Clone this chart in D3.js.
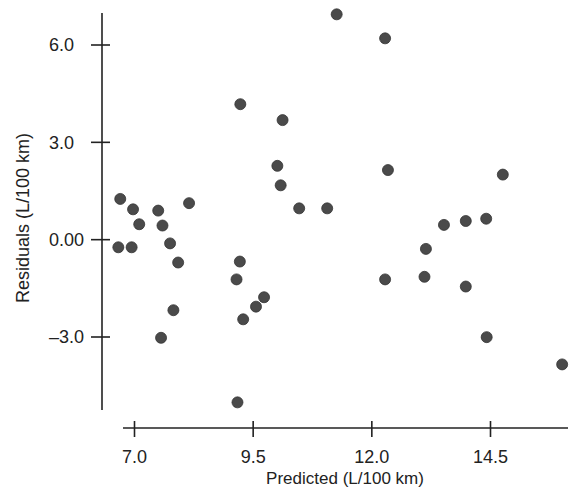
<!DOCTYPE html>
<html>
<head>
<meta charset="utf-8">
<script src="https://cdn.jsdelivr.net/npm/d3@7"></script>
<style>
  html, body { margin: 0; padding: 0; background: #fff; }
  svg text { font-family: "Liberation Sans", Arial, sans-serif; fill: #222; }
</style>
</head>
<body>
<svg id="chart" width="570" height="490"></svg>
<script>
// predicted fuel use (L/100 km) and residuals
let predicted = [6.67, 6.95, 6.71, 6.98, 7.11, 7.51, 7.60, 7.76, 7.93, 7.83, 7.57, 8.16,
                 9.23, 9.16, 9.74, 9.57, 9.30, 9.18, 9.24, 10.13, 10.02, 10.09, 10.48, 11.07,
                 11.27, 12.29, 12.35, 14.77, 13.53, 13.99, 14.42, 13.15, 12.29, 13.12, 13.99, 14.43, 16.02];
let residuals = [-0.25, -0.25, 1.24, 0.92, 0.46, 0.88, 0.42, -0.13, -0.72, -2.19, -3.04, 1.11,
                 -0.69, -1.24, -1.79, -2.08, -2.47, -5.03, 4.16, 3.67, 2.26, 1.66, 0.95, 0.95,
                 6.93, 6.19, 2.13, 1.99, 0.44, 0.56, 0.63, -0.30, -1.24, -1.16, -1.46, -3.02, -3.86];

let xTicks = [7.0, 9.5, 12.0, 14.5];
let xTickLabels = ["7.0", "9.5", "12.0", "14.5"];
let yTicks = [-3, 0, 3, 6];
let yTickLabels = ["\u20133.0", "0.00", "3.0", "6.0"];

let xTitle = "Predicted (L/100 km)";
let yTitle = "Residuals (L/100 km)";

// layout
let svg = d3.select("#chart");
let xAxisY = 428, yAxisX = 102;
let ink = "#222";

let x = d3.scaleLinear().domain([7.0, 14.5]).range([134, 490]);
let y = d3.scaleLinear().domain([-3, 6]).range([336.5, 44.5]);

// x axis
let gx = svg.append("g")
    .attr("transform", "translate(0," + xAxisY + ")")
    .call(d3.axisBottom(x)
        .tickValues(xTicks)
        .tickFormat((d, i) => xTickLabels[i]));
gx.select(".domain").remove();
gx.selectAll(".tick line")
    .attr("y1", -7).attr("y2", 9)
    .attr("stroke", ink).attr("stroke-width", 1.6);
gx.selectAll(".tick text")
    .attr("y", 35).attr("dy", null)
    .style("font-size", "18px");
gx.append("line")
    .attr("x1", 123).attr("x2", 568)
    .attr("stroke", ink).attr("stroke-width", 1.6);

// y axis
let gy = svg.append("g")
    .attr("transform", "translate(" + yAxisX + ",0)")
    .call(d3.axisLeft(y)
        .tickValues(yTicks)
        .tickFormat((d, i) => yTickLabels[i]));
gy.select(".domain").remove();
gy.selectAll(".tick line")
    .attr("x1", -11).attr("x2", 8)
    .attr("stroke", ink).attr("stroke-width", 1.6);
gy.selectAll(".tick text")
    .attr("x", -53).attr("dy", "0.36em")
    .attr("text-anchor", "start")
    .style("font-size", "18px");
gy.append("line")
    .attr("y1", 13).attr("y2", 410)
    .attr("stroke", ink).attr("stroke-width", 1.6);

// titles
svg.append("text")
    .attr("x", 345).attr("y", 484)
    .attr("text-anchor", "middle")
    .style("font-size", "17px")
    .text(xTitle);

svg.append("text")
    .attr("transform", "translate(29,218) rotate(-90)")
    .attr("text-anchor", "middle")
    .style("font-size", "18px")
    .text(yTitle);

// points
svg.append("g")
    .selectAll("circle")
    .data(predicted.map((p, i) => ({p: p, r: residuals[i]})))
    .enter().append("circle")
    .attr("cx", d => x(d.p))
    .attr("cy", d => y(d.r))
    .attr("r", 5.5)
    .attr("fill", "#4a4a4a")
    .attr("stroke", "#333")
    .attr("stroke-width", 0.8);
</script>
</body>
</html>
